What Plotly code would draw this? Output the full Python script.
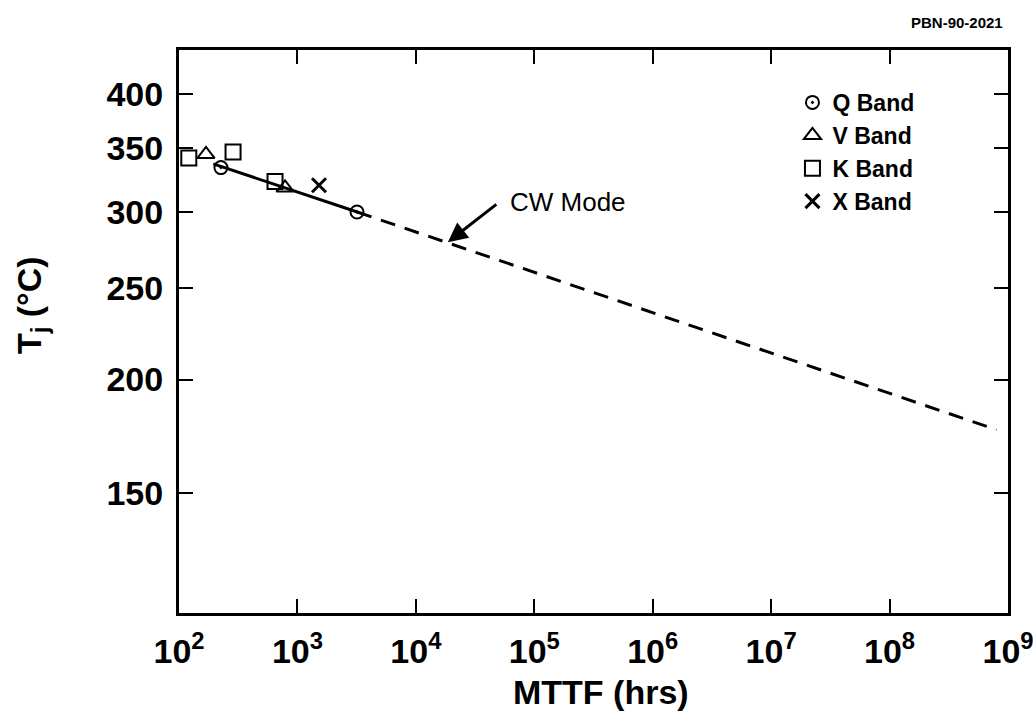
import plotly.graph_objects as go
import numpy as np

# ---- data ----
q_mttf = [226, 3185]
q_tj = [334, 300]
v_mttf = [169, 786]
v_tj = [345, 318]
k_mttf = [121, 286, 647]
k_tj = [342, 347, 323]
x_mttf = [1521]
x_tj = [320]

fit_solid_mttf = [195, 3200]
fit_solid_tj = [337, 300]
fit_dash_mttf = [3200, 8e8]
fit_dash_tj = [300, 176.5]

y_tick_labels = [150, 200, 250, 300, 350, 400]
x_tick_exps = [2, 3, 4, 5, 6, 7, 8, 9]


def u(t):
    """Arrhenius scale: 1000 / T(K)."""
    return 1000.0 / (np.asarray(t, dtype=float) + 273.15)


FONT = "Liberation Sans, Arial, Helvetica, sans-serif"

fig = go.Figure()

fig.add_trace(go.Scatter(x=fit_solid_mttf, y=u(fit_solid_tj), mode="lines",
                         line=dict(color="black", width=3), showlegend=False, hoverinfo="skip"))
fig.add_trace(go.Scatter(x=fit_dash_mttf, y=u(fit_dash_tj), mode="lines",
                         line=dict(color="black", width=3, dash="15px,10px"),
                         showlegend=False, hoverinfo="skip"))

mk_line = dict(color="black", width=2)
fig.add_trace(go.Scatter(x=q_mttf, y=u(q_tj), mode="markers", name="Q Band",
                         marker=dict(symbol="circle-open-dot", size=13, color="black", line=mk_line)))
fig.add_trace(go.Scatter(x=v_mttf, y=u(v_tj), mode="markers", name="V Band",
                         marker=dict(symbol="triangle-up-open", size=15, color="black", line=mk_line)))
fig.add_trace(go.Scatter(x=k_mttf, y=u(k_tj), mode="markers", name="K Band",
                         marker=dict(symbol="square-open", size=15, color="black", line=mk_line)))
fig.add_trace(go.Scatter(x=x_mttf, y=u(x_tj), mode="markers", name="X Band",
                         marker=dict(symbol="x-thin-open", size=14, color="black",
                                     line=dict(color="black", width=3))))

axis_common = dict(
    showline=True, linecolor="black", linewidth=3, mirror="ticks",
    ticks="inside", ticklen=14, tickwidth=2, tickcolor="black",
    showgrid=False, zeroline=False, automargin=False,
    ticklabeloverflow="allow",
    tickfont=dict(family=FONT, size=34, color="black", weight="bold"),
)

fig.update_xaxes(
    type="log", range=[2, 9],
    tickvals=[10.0 ** e for e in x_tick_exps],
    ticktext=[f"10<sup>{e}</sup>" for e in x_tick_exps],
    ticklabelstandoff=6,
    **axis_common,
)
fig.update_yaxes(
    range=[2.6272, 1.3882],
    tickvals=list(u(y_tick_labels)),
    ticktext=[str(t) for t in y_tick_labels],
    ticklabelstandoff=6,
    **axis_common,
)

fig.update_layout(
    width=1033, height=715,
    margin=dict(l=179, r=25, t=50, b=102),
    paper_bgcolor="white", plot_bgcolor="white",
    font=dict(family=FONT, color="black"),
    legend=dict(x=0.74, y=0.945, xanchor="left", yanchor="top",
                bgcolor="rgba(0,0,0,0)",
                font=dict(family=FONT, size=23, color="black", weight="bold"),
                itemwidth=30),
    annotations=[
        dict(text="MTTF (hrs)", xref="paper", yref="paper", x=0.509, y=-0.140,
             xanchor="center", yanchor="middle", showarrow=False,
             font=dict(family=FONT, size=34, color="black", weight="bold")),
        dict(text="T<sub>j</sub> (°C)", xref="paper", yref="paper", x=-0.1785, y=0.547,
             xanchor="center", yanchor="middle", showarrow=False, textangle=-90,
             font=dict(family=FONT, size=34, color="black", weight="bold")),
        dict(text="PBN-90-2021", xref="paper", yref="paper", x=0.9964, y=1.048,
             xanchor="right", yanchor="middle", showarrow=False,
             font=dict(family=FONT, size=15, color="black", weight="bold")),
        dict(text="CW Mode", xref="paper", yref="paper", x=0.4692, y=0.730,
             xanchor="center", yanchor="middle", showarrow=False,
             font=dict(family=FONT, size=26, color="black")),
        dict(text="", x=4.27, y=float(u(279)), xref="x", yref="y",
             showarrow=True, ax=50, ay=-39, arrowhead=2, arrowsize=1.3,
             arrowwidth=3, arrowcolor="black"),
    ],
)

fig.write_html("out.html")
